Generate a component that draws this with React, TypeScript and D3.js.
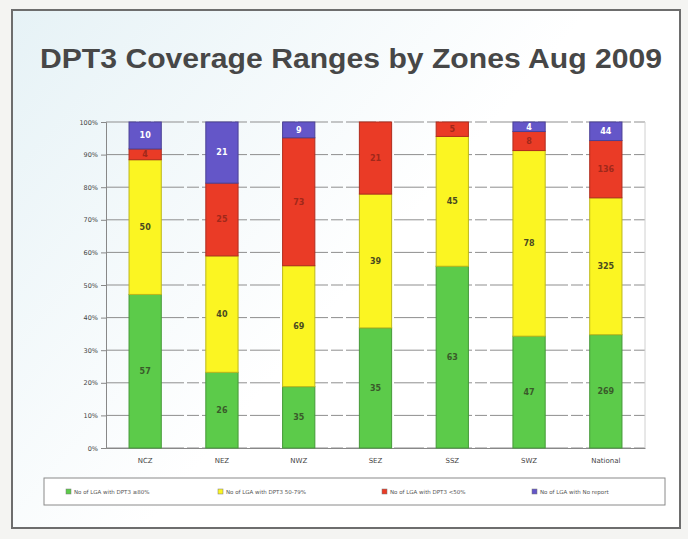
import React, { useRef, useEffect } from 'react';
import * as d3 from 'd3';

const zones = ["NCZ", "NEZ", "NWZ", "SEZ", "SSZ", "SWZ", "National"];
const lgaHigh = [57, 26, 35, 35, 63, 47, 269];
const lgaMid = [50, 40, 69, 39, 45, 78, 325];
const lgaLow = [4, 25, 73, 21, 5, 8, 136];
const lgaNoReport = [10, 21, 9, 0, 0, 4, 44];
const seriesNames = [
  "No of LGA with DPT3 \u226580%",
  "No of LGA with DPT3 50-79%",
  "No of LGA with DPT3 <50%",
  "No of LGA with No report"
];
const seriesColors = ["#5ccb4a", "#fbf522", "#ea3b26", "#6456c8"];
const labelColors = ["#3a5a2a", "#4a4a20", "#a0281a", "#ffffff"];
const yTicks = [0, 0.1, 0.2, 0.3, 0.4, 0.5, 0.6, 0.7, 0.8, 0.9, 1];

const W = 688;
const H = 539;

const App = () => {
  const svgRef = useRef<SVGSVGElement>(null);

  useEffect(() => {
    const svg = d3.select(svgRef.current);
    svg.selectAll("*").remove();

    // slide background
    const defs = svg.append("defs");
    const bg = defs.append("linearGradient").attr("id", "slide-bg")
      .attr("x1", "0%").attr("y1", "0%").attr("x2", "60%").attr("y2", "40%");
    bg.append("stop").attr("offset", "0%").attr("stop-color", "#e6f2f6");
    bg.append("stop").attr("offset", "100%").attr("stop-color", "#ffffff");

    svg.append("rect").attr("width", W).attr("height", H).attr("fill", "#f4f4f2");
    svg.append("rect")
      .attr("x", 12).attr("y", 10).attr("width", 668).attr("height", 518)
      .attr("fill", "url(#slide-bg)")
      .attr("stroke", "#6d6d6d").attr("stroke-width", 2);

    svg.append("text")
      .attr("x", 40).attr("y", 68)
      .attr("textLength", 622).attr("lengthAdjust", "spacingAndGlyphs")
      .style("font-family", "'Liberation Sans', Arial, sans-serif")
      .style("font-size", "27px")
      .style("font-weight", "bold")
      .style("fill", "#474747")
      .text("DPT3 Coverage Ranges by Zones Aug 2009");

    const left = 106, right = 645, top = 122, bottom = 448;

    const x = d3.scaleBand().domain(zones).range([left, right])
      .paddingInner(0.58).paddingOuter(0.3);
    const y = d3.scaleLinear().domain([0, 1]).range([bottom, top]);

    const rows = zones.map((z, i) => {
      const total = lgaHigh[i] + lgaMid[i] + lgaLow[i] + lgaNoReport[i];
      return {
        zone: z,
        counts: [lgaHigh[i], lgaMid[i], lgaLow[i], lgaNoReport[i]],
        s0: lgaHigh[i] / total,
        s1: lgaMid[i] / total,
        s2: lgaLow[i] / total,
        s3: lgaNoReport[i] / total
      };
    });

    const stack = d3.stack<any>().keys(["s0", "s1", "s2", "s3"]);
    const layers = stack(rows);

    // gridlines
    svg.append("g").selectAll("line").data(yTicks).enter().append("line")
      .attr("x1", left).attr("x2", right)
      .attr("y1", d => y(d)).attr("y2", d => y(d))
      .attr("stroke", "#8f8f8f").attr("stroke-width", 1)
      .attr("stroke-dasharray", "30,3,12,3");

    // right light border
    svg.append("line")
      .attr("x1", right).attr("x2", right).attr("y1", top).attr("y2", bottom)
      .attr("stroke", "#d0d0d0");

    // y axis
    const yAxis = d3.axisLeft(y).tickValues(yTicks).tickFormat(d3.format(".0%")).tickSize(5);
    const ya = svg.append("g").attr("transform", `translate(${left},0)`).call(yAxis);
    ya.select(".domain").attr("stroke", "#888");
    ya.selectAll(".tick line").attr("stroke", "#888");
    ya.selectAll(".tick text")
      .style("font-family", "'DejaVu Sans', sans-serif")
      .style("font-size", "6.5px")
      .style("fill", "#444");

    // x axis labels
    const xa = svg.append("g").attr("transform", `translate(0,${bottom})`)
      .call(d3.axisBottom(x).tickSize(0).tickPadding(10));
    xa.select(".domain").attr("stroke", "#888");
    xa.selectAll(".tick text")
      .style("font-family", "'DejaVu Sans', sans-serif")
      .style("font-size", "7px")
      .style("fill", "#444");

    // bars
    layers.forEach((layer, li) => {
      const g = svg.append("g");
      g.selectAll("rect").data(layer).enter().append("rect")
        .attr("x", d => x(d.data.zone)!)
        .attr("width", x.bandwidth())
        .attr("y", d => y(d[1]))
        .attr("height", d => Math.max(0, y(d[0]) - y(d[1])))
        .attr("fill", seriesColors[li])
        .attr("stroke", d3.color(seriesColors[li])!.darker(0.8).toString())
        .attr("stroke-width", 1);

      g.selectAll("text").data(layer.filter((d, i) => rows[i].counts[li] > 0 && y(d[0]) - y(d[1]) > 7))
        .enter().append("text")
        .attr("x", d => x(d.data.zone)! + x.bandwidth() / 2)
        .attr("y", d => (y(d[0]) + y(d[1])) / 2)
        .attr("dy", "0.35em")
        .attr("text-anchor", "middle")
        .style("font-family", "'DejaVu Sans', sans-serif")
        .style("font-size", "8px")
        .style("font-weight", "bold")
        .style("fill", labelColors[li])
        .text(d => d.data.counts[li]);
    });

    // legend
    svg.append("rect")
      .attr("x", 44).attr("y", 478).attr("width", 621).attr("height", 27)
      .attr("fill", "#fff").attr("stroke", "#8a8a8a").attr("stroke-width", 1);

    const legendX = [66, 218, 382, 532];
    const lg = svg.append("g").selectAll("g").data(seriesNames).enter().append("g")
      .attr("transform", (d, i) => `translate(${legendX[i]},492)`);
    lg.append("rect").attr("x", 0).attr("y", -3).attr("width", 5).attr("height", 5)
      .attr("fill", (d, i) => seriesColors[i]).attr("stroke", "#777").attr("stroke-width", 0.5);
    lg.append("text").attr("x", 8).attr("y", 0).attr("dy", "0.35em")
      .style("font-family", "'DejaVu Sans', sans-serif")
      .style("font-size", "5.5px")
      .style("fill", "#555")
      .text(d => d);
  }, []);

  return (
    <svg ref={svgRef} width={W} height={H}
      style={{ position: "absolute", left: 0, top: 0, display: "block" }} />
  );
};

export default App;
